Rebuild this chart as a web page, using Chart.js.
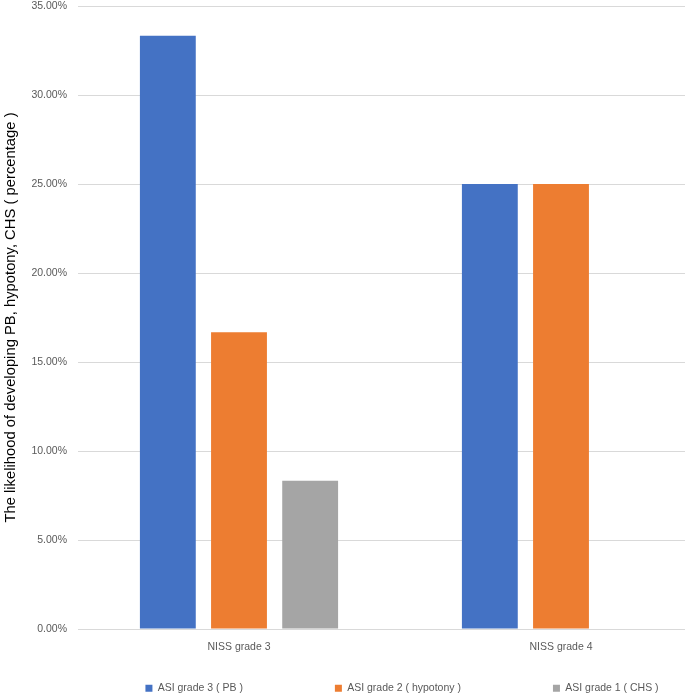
<!DOCTYPE html>
<html>
<head>
<meta charset="utf-8">
<script src="https://cdn.jsdelivr.net/npm/chart.js@4/dist/chart.umd.min.js"></script>
<style>
  html, body { margin: 0; padding: 0; overflow: hidden; background: #fff; width: 685px; height: 695px; }
  #wrap { position: absolute; left: 0; top: 0; width: 722px; height: 695px; }
</style>
</head>
<body>
<div id="wrap"><canvas id="c" width="722" height="695"></canvas></div>
<script>
const categories = ['NISS grade 3', 'NISS grade 4'];
const seriesNames = ['ASI grade 3 ( PB )', 'ASI grade 2 ( hypotony )', 'ASI grade 1 ( CHS )'];
const pbValues = [33.33, 25.00];
const hypotonyValues = [16.67, 25.00];
const chsValues = [8.33, 0];
const yTickStep = 5;
const yMax = 35;
const yTitle = 'The likelihood of developing PB, hypotony, CHS ( percentage )';
const colors = ['#4472C4', '#ED7D31', '#A5A5A5'];

const FONT = "'Liberation Sans', Arial, sans-serif";
const LEGEND_GAP = 92;      // horizontal spacing between legend items
const LEGEND_HEIGHT = 42;   // real height of legend box
const LEGEND_TOP_OFFSET = 30;
const LEGEND_SHIFT_X = 41;

const legendTweak = {
  id: 'legendTweak',
  beforeLayout(chart) {
    const lg = chart.legend;
    if (!lg || lg._tweaked) return;
    lg._tweaked = true;
    const origFit = lg.fit;
    lg.fit = function () {
      origFit.call(this);
      this.height = LEGEND_HEIGHT;
    };
    const origDraw = lg.draw;
    lg.draw = function () {
      const t = this.top, l = this.left, r = this.right;
      const pad = this.options.labels.padding;
      this.top = t - (pad - LEGEND_TOP_OFFSET);
      this.left = l + LEGEND_SHIFT_X;
      this.right = r + LEGEND_SHIFT_X;
      origDraw.call(this);
      this.top = t; this.left = l; this.right = r;
    };
  }
};

const data = {
  labels: categories,
  datasets: [
    { label: seriesNames[0], data: pbValues, backgroundColor: colors[0] },
    { label: seriesNames[1], data: hypotonyValues, backgroundColor: colors[1] },
    { label: seriesNames[2], data: chsValues, backgroundColor: colors[2] }
  ]
};

new Chart(document.getElementById('c'), {
  type: 'bar',
  data: data,
  plugins: [legendTweak],
  options: {
    responsive: false,
    animation: false,
    devicePixelRatio: 1,
    datasets: {
      bar: { categoryPercentage: 0.663, barPercentage: 0.785, borderWidth: 0 }
    },
    layout: { padding: { top: 0, left: 0, right: 0, bottom: 0 } },
    plugins: {
      tooltip: { enabled: false },
      legend: {
        position: 'bottom',
        align: 'center',
        labels: {
          boxWidth: 7,
          boxHeight: 7,
          padding: LEGEND_GAP,
          color: '#595959',
          font: { family: FONT, size: 10.5 }
        }
      }
    },
    scales: {
      x: {
        grid: { display: false, drawTicks: false },
        border: { display: false },
        ticks: { color: '#595959', font: { family: FONT, size: 10.5 }, padding: 12 },
        afterFit(scale) { scale.height = 24; }
      },
      y: {
        min: 0,
        max: yMax,
        ticks: {
          stepSize: yTickStep,
          color: '#595959',
          font: { family: FONT, size: 10.5 },
          padding: 11,
          callback: (v) => v.toFixed(2) + '%'
        },
        grid: { color: '#D9D9D9', lineWidth: 1, drawTicks: false },
        border: { display: false },
        title: {
          display: true,
          text: yTitle,
          color: '#000000',
          font: { family: FONT, size: 14.8 },
          padding: { top: 2, bottom: 0 }
        },
        afterFit(scale) {
          scale.width = 78;
          scale.paddingTop = 6;
          scale.paddingBottom = 6;
        }
      }
    }
  }
});
</script>
</body>
</html>
